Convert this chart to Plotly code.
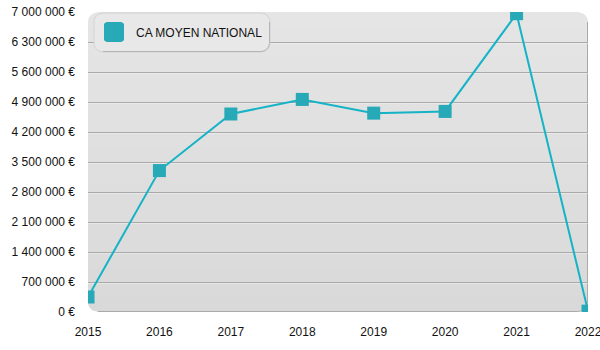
import math
import plotly.graph_objects as go

# Average national turnover per year
years = [2015, 2016, 2017, 2018, 2019, 2020, 2021, 2022]
ca_moyen = [350000, 3300000, 4620000, 4960000, 4640000, 4680000, 6960000, 20000]
series_name = "CA MOYEN NATIONAL"

y_max = 7000000
y_step = 700000

W, H = 600, 350
M_L, M_R, M_T, M_B = 88, 12, 12, 38
PW, PH = W - M_L - M_R, H - M_T - M_B

LINE_COLOR = "#15b3c6"
MARKER_COLOR = "#27a9b7"
FONT = "Liberation Sans, Arial, sans-serif"


def px(x):
    return (x - M_L) / PW


def py(y):
    return (M_T + PH - y) / PH


def edge_x(y, y0, y1, x0, x1, r):
    """Horizontal extent of a rounded rectangle at pixel row y."""
    d = 0.0
    if y < y0 + r:
        t = y0 + r - y
        d = r - math.sqrt(max(r * r - t * t, 0))
    elif y > y1 - r:
        t = y - (y1 - r)
        d = r - math.sqrt(max(r * r - t * t, 0))
    return x0 + d, x1 - d


def band_path(ya, yb, box, steps=8):
    """Closed path (paper coords) for the slice ya..yb of a rounded box."""
    x0, y0, x1, y1, r = box
    ys = [ya + (yb - ya) * i / steps for i in range(steps + 1)]
    left = [(edge_x(y, y0, y1, x0, x1, r)[0], y) for y in ys]
    right = [(edge_x(y, y0, y1, x0, x1, r)[1], y) for y in reversed(ys)]
    pts = left + right
    return "M " + " L ".join(f"{px(x):.5f},{py(y):.5f}" for x, y in pts) + " Z"


def lerp_color(c0, c1, t):
    a = [int(c0[i:i + 2], 16) for i in (1, 3, 5)]
    b = [int(c1[i:i + 2], 16) for i in (1, 3, 5)]
    return "#" + "".join(f"{round(a[i] + (b[i] - a[i]) * t):02x}" for i in range(3))


shapes = []

# Plot background: rounded box with a soft vertical gradient
plot_box = (M_L, M_T, M_L + PW, M_T + PH, 10)
n_bands = 20
for i in range(n_bands):
    ya = M_T + PH * i / n_bands
    yb = M_T + PH * (i + 1) / n_bands + (0.6 if i < n_bands - 1 else 0)
    shapes.append(dict(type="path", xref="paper", yref="paper", layer="below",
                       path=band_path(ya, yb, plot_box),
                       fillcolor=lerp_color("#e5e5e5", "#d9d9d9", i / (n_bands - 1)),
                       line=dict(width=0)))


def corner_edge_path(box, n=8):
    """Right and bottom edges of a rounded box, joined by the corner arc."""
    x0, y0, x1, y1, r = box
    pts = [(x1 - 0.5, y0 + r)]
    for k in range(n + 1):
        a = math.pi / 2 * k / n
        pts.append((x1 - 0.5 - r + r * math.cos(a), y1 - 0.5 - r + r * math.sin(a)))
    pts.append((x0 + r, y1 - 0.5))
    return "M " + " L ".join(f"{px(x):.5f},{py(y):.5f}" for x, y in pts)


shapes.append(dict(type="path", xref="paper", yref="paper", layer="below",
                   path=corner_edge_path(plot_box), line=dict(color="#a9a9a9", width=1)))

# White highlight under each gridline
tick_vals = [y_step * k for k in range(1, 10)]
for v in tick_vals:
    shapes.append(dict(type="line", xref="paper", yref="y", layer="below",
                       x0=0, x1=1, ysizemode="pixel", yanchor=v, y0=-1, y1=-1,
                       line=dict(color="#f4f4f4", width=1)))

# Legend box
leg_box = (94, 13, 270, 52, 9)
shapes.append(dict(type="path", xref="paper", yref="paper", layer="above",
                   path=band_path(leg_box[1], leg_box[3], leg_box, steps=30),
                   fillcolor="#e8e8e8", line=dict(color="#d2d2d2", width=1)))
shapes.append(dict(type="path", xref="paper", yref="paper", layer="above",
                   path=corner_edge_path(leg_box), line=dict(color="#b4b4b4", width=1)))
icon_box = (104, 22, 124, 42, 3)
shapes.append(dict(type="path", xref="paper", yref="paper", layer="above",
                   path=band_path(icon_box[1], icon_box[3], icon_box, steps=20),
                   fillcolor=MARKER_COLOR, line=dict(width=0)))

fig = go.Figure()
fig.add_trace(go.Scatter(
    x=years, y=ca_moyen, mode="lines+markers", name=series_name,
    line=dict(color=LINE_COLOR, width=2),
    marker=dict(symbol="square", size=13, color=MARKER_COLOR, line=dict(width=0)),
    showlegend=False, cliponaxis=True,
))

fig.update_layout(
    width=W, height=H,
    margin=dict(l=M_L, r=M_R, t=M_T, b=M_B, pad=0, autoexpand=False),
    paper_bgcolor="white",
    plot_bgcolor="rgba(0,0,0,0)",
    separators=", ",
    font=dict(family=FONT, size=12, color="#111111"),
    shapes=shapes,
    annotations=[dict(xref="paper", yref="paper", x=px(134), y=py(32.5),
                      xanchor="left", yanchor="middle", showarrow=False,
                      text=series_name, font=dict(family=FONT, size=12, color="#111111"))],
)
fig.update_xaxes(range=[years[0], years[-1]], dtick=1, tickformat="d",
                 showgrid=False, zeroline=False, showline=False, ticks="",
                 automargin=False, ticklabeloverflow="allow",
                 ticklabelstandoff=11, tickfont=dict(size=12))
fig.update_yaxes(range=[0, y_max], dtick=y_step, tickformat=",.0f", ticksuffix=" €",
                 showgrid=True, gridcolor="#a9a9a9", gridwidth=1,
                 zeroline=False, showline=False, ticks="",
                 automargin=False, ticklabeloverflow="allow",
                 ticklabelstandoff=12, tickfont=dict(size=12))

fig.write_html("out.html")
